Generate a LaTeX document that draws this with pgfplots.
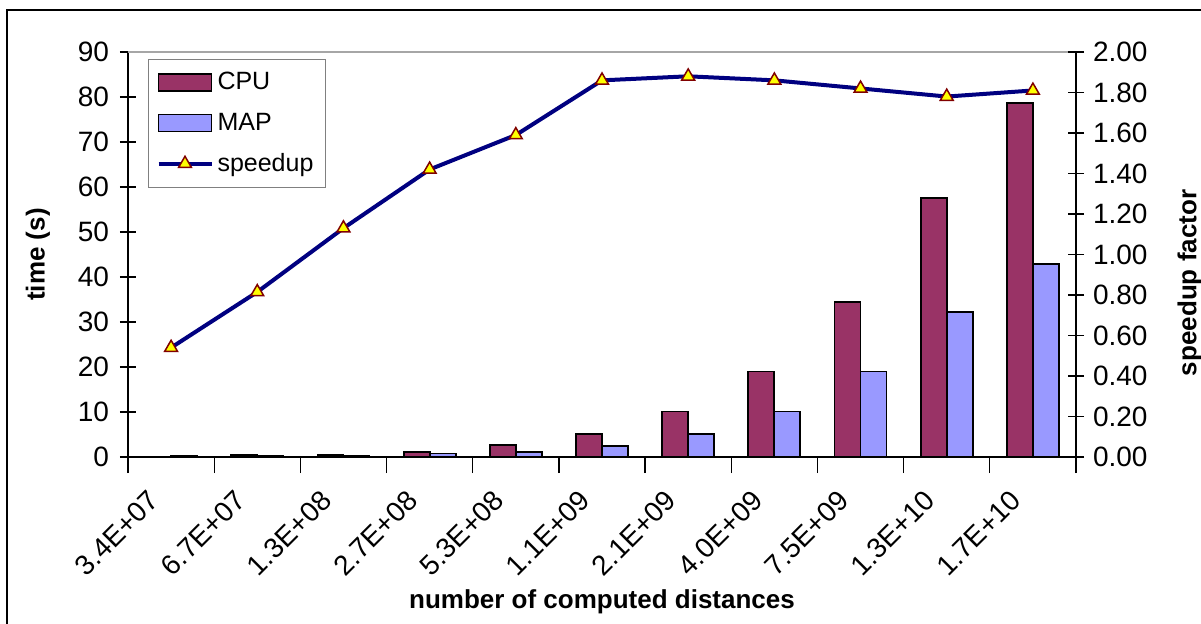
\documentclass[border=0pt]{standalone}
\usepackage{pgfplots}
\pgfplotsset{compat=1.18}
\usepackage{fontspec}
\setmainfont{Liberation Sans}
\definecolor{cpu}{HTML}{993366}
\definecolor{map}{HTML}{9999FF}
\definecolor{navyline}{HTML}{000080}
\definecolor{mkedge}{HTML}{800000}
\definecolor{mkfill}{HTML}{FFFF00}
\newcommand{\tf}{\fontsize{14}{16}\selectfont}
\begin{document}
\begin{tikzpicture}
\useasboundingbox (-64pt,-83pt) rectangle (536.5pt,228.5pt);
\draw[line width=1pt] (-60.5pt,-90pt) -- (-60.5pt,223.5pt) -- (540pt,223.5pt);
\begin{axis}[
  at={(0pt,0pt)}, anchor=south west,
  scale only axis, width=474pt, height=202.5pt,
  xmin=-0.5, xmax=10.5, ymin=0, ymax=90,
  ytick={0,10,20,30,40,50,60,70,80,90},
  xtick={0,1,2,3,4,5,6,7,8,9,10},
  xticklabels={{\tf 3.4E+07},{\tf 6.7E+07},{\tf 1.3E+08},{\tf 2.7E+08},{\tf 5.3E+08},{\tf 1.1E+09},{\tf 2.1E+09},{\tf 4.0E+09},{\tf 7.5E+09},{\tf 1.3E+10},{\tf 1.7E+10}},
  yticklabel={\tf\pgfmathprintnumber{\tick}},
  minor xtick={-0.5,0.5,1.5,2.5,3.5,4.5,5.5,6.5,7.5,8.5,9.5,10.5},
  axis x line*=bottom, axis y line*=left,
  axis line style={line width=0.7pt, -},
  tick style={line width=0.6pt, black},
  major x tick style={draw=none},
  tick align=center,
  major tick length=8pt, minor tick length=8pt,
  /pgf/number format/assume math mode=true,
  yticklabel style={xshift=-2pt},
  xticklabel style={xshift=-6pt, yshift=-9pt, rotate=45, anchor=east},
  ylabel={time (s)},
  every axis y label/.style={at={(axis description cs:-0.095,0.5)}, rotate=90, anchor=center, font=\fontsize{13}{15}\selectfont\bfseries},
  xlabel={number of computed distances},
  every axis x label/.style={at={(axis description cs:0.5,-0.357)}, anchor=center, font=\fontsize{13}{15}\selectfont\bfseries},
  ybar=0pt, bar width=13pt,
  clip=false,
]
\draw[gray!70, line width=0.7pt] (rel axis cs:0,1) -- (rel axis cs:1,1);
\addplot[fill=cpu, draw=black, line width=0.9pt] coordinates {
  (1,0.4) (2,0.4) (3,1.2) (4,2.7) (5,5.2) (6,10.1) (7,19.0) (8,34.5) (9,57.6) (10,78.6)};
\addplot[fill=map, draw=black, line width=0.9pt] coordinates {
  (0,0.3) (1,0.3) (2,0.3) (3,0.8) (4,1.2) (5,2.5) (6,5.2) (7,10.1) (8,19.0) (9,32.3) (10,42.9)};
\end{axis}
\begin{axis}[
  at={(0pt,0pt)}, anchor=south west,
  scale only axis, width=474pt, height=202.5pt,
  xmin=-0.5, xmax=10.5, ymin=0, ymax=2,
  axis x line=none, axis y line*=right,
  axis line style={line width=0.7pt, -},
  tick style={line width=0.6pt, black},
  tick align=center, major tick length=8pt,
  ytick={0,0.2,0.4,0.6,0.8,1.0,1.2,1.4,1.6,1.8,2.0},
  /pgf/number format/assume math mode=true,
  yticklabel={\tf\pgfmathprintnumber[fixed,fixed zerofill,precision=2]{\tick}},
  yticklabel style={xshift=1pt},
  ylabel={speedup factor},
  every axis y label/.style={at={(axis description cs:1.12,0.43)}, rotate=90, anchor=center, font=\fontsize{13}{15}\selectfont\bfseries},
  legend style={at={(0.021,0.983)}, anchor=north west, draw=gray, line width=0.6pt,
    font=\fontsize{12.5}{15}\selectfont, row sep=6pt, inner xsep=4pt, inner ysep=4.5pt},
  legend cell align=left,
  clip=false,
]
\addlegendimage{legend image code/.code={\draw[fill=cpu,draw=black,line width=0.9pt] (0pt,-4.25pt) rectangle (26.5pt,4.25pt);}}
\addlegendentry{CPU}
\addlegendimage{legend image code/.code={\draw[fill=map,draw=black,line width=0.9pt] (0pt,-4.25pt) rectangle (26.5pt,4.25pt);}}
\addlegendentry{MAP}
\addplot[navyline, line width=2pt, mark=triangle*, mark size=3.7pt,
  mark options={fill=mkfill, draw=mkedge, line width=0.75pt},
  legend image code/.code={\draw[navyline,line width=2pt] (0pt,0pt) -- (26.5pt,0pt);
    \draw[mark=triangle*, mark size=3.7pt, mark options={fill=mkfill, draw=mkedge, line width=0.75pt}] plot coordinates {(13.25pt,0pt)};}]
  coordinates {(0,0.54) (1,0.815) (2,1.13) (3,1.42) (4,1.59) (5,1.86) (6,1.88) (7,1.86) (8,1.82) (9,1.78) (10,1.81)};
\addlegendentry{speedup}
\end{axis}
\end{tikzpicture}
\end{document}
